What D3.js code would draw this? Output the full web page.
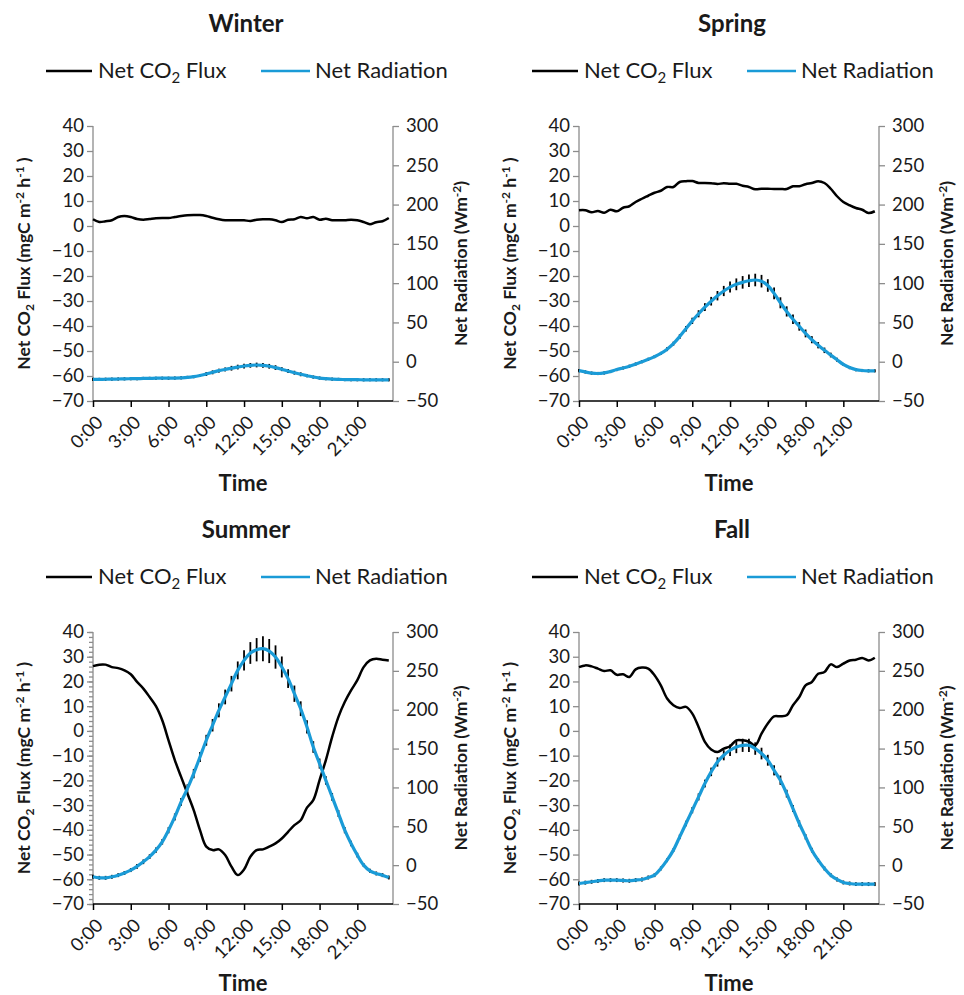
<!DOCTYPE html>
<html>
<head>
<meta charset="utf-8">
<script src="https://cdn.jsdelivr.net/npm/d3@7"></script>
<style>
  body { margin: 0; background: #fff; }
  text { font-family: Lato, "Open Sans", sans-serif; fill: #1a1a1a; }
  .title, .axtitle, .time { font-weight: bold; }
</style>
</head>
<body>
<div id="chart"></div>
<script>
// half-hourly values, 0:00 ... 23:30
var hours = d3.range(48).map(function (i) { return i / 2; });
var tickHours = [0, 3, 6, 9, 12, 15, 18, 21];
var tickLabels = ["0:00", "3:00", "6:00", "9:00", "12:00", "15:00", "18:00", "21:00"];
var fluxTicks = [40, 30, 20, 10, 0, -10, -20, -30, -40, -50, -60, -70];
var radTicks = [300, 250, 200, 150, 100, 50, 0, -50];

var winterFlux = [2.7, 1.6, 1.9, 2.3, 3.6, 4.0, 3.6, 2.8, 2.5, 2.8, 3.1, 3.2, 3.2, 3.6, 4.0, 4.3,
  4.4, 4.4, 4.0, 3.3, 2.7, 2.3, 2.3, 2.3, 2.3, 2.0, 2.5, 2.7, 2.7, 2.3, 1.6, 2.5,
  2.7, 3.6, 3.1, 3.6, 2.5, 2.9, 2.3, 2.3, 2.3, 2.5, 2.3, 1.6, 0.7, 1.5, 1.9, 3.2];
var winterRad = [-22.5, -22.5, -22.3, -22.2, -22, -21.8, -21.6, -21.5, -21.3, -21.2, -21, -21, -21, -20.8, -20.5, -20,
  -19, -17.5, -15.7, -13.5, -11.4, -9.8, -8.3, -6.8, -5.5, -4.6, -4.2, -4.6, -5.8, -7.5, -9.5, -11.8,
  -14, -16, -17.8, -19.5, -20.8, -21.6, -22.2, -22.5, -22.7, -22.8, -22.9, -23, -23, -23, -23, -23];
var winterErr = [2, 2, 2, 2, 2, 2, 2, 2, 2, 2, 2, 2, 2, 2, 2, 2,
  2, 2, 2.5, 2.5, 2.5, 2.5, 3, 3, 3, 3, 3, 3, 3, 3, 2.5, 2.5,
  2.5, 2.5, 2, 2, 2, 2, 2, 2, 2, 2, 2, 2, 2, 2, 2, 2];

var springFlux = [6.3, 6.3, 5.5, 6.0, 5.3, 6.5, 5.9, 7.3, 7.9, 9.6, 10.9, 12.1, 13.3, 14.1, 15.6, 15.6,
  17.6, 17.9, 18.0, 17.2, 17.2, 17.1, 16.8, 17.1, 16.9, 16.9, 16.1, 15.6, 14.7, 14.9, 14.9, 14.8,
  14.8, 14.8, 15.9, 15.9, 16.7, 17.2, 17.9, 17.2, 14.9, 11.9, 9.6, 8.3, 7.2, 6.5, 5.2, 5.9];
var springRad = [-11.4, -13, -14.5, -15, -14.3, -12.5, -10, -8, -5.8, -3, 0, 3, 6.5, 10.5, 16, 23,
  32, 42, 52, 61, 69.5, 77, 84, 90, 95, 98.5, 101, 103, 104, 102.5, 97, 87,
  75, 64, 54, 45, 36, 28, 21, 14.5, 8.5, 2.5, -3.5, -7.5, -10, -11.2, -11.6, -11.6];
var springErr = [2, 2, 2, 2, 2, 2, 2, 2, 2, 2, 2, 2, 2, 2, 2.5, 2.5,
  3, 3.5, 4, 4.5, 5, 5.5, 6, 6.5, 7, 7.5, 8, 8, 8, 8, 8, 7.5,
  7, 6.5, 6, 5.5, 5, 4.5, 4, 3.5, 3, 2.5, 2, 2, 2, 2, 2, 2];

var summerFlux = [26.2, 26.8, 26.8, 25.8, 25.4, 24.5, 22.9, 19.8, 17.1, 13.7, 10, 4.3, -3.8, -11.8, -18.6, -25.3,
  -32, -40.1, -46.8, -48.2, -47.9, -50.2, -54.9, -58.3, -56, -50.9, -48.2, -47.9, -46.8, -45.5, -43.5, -40.8,
  -38.1, -36.1, -31, -28, -19.9, -11.8, -2.4, 5.7, 11.7, 16.4, 20.5, 25.8, 28.5, 29.2, 28.8, 28.5];
var summerRad = [-15, -16.3, -16.3, -15, -12.9, -10, -6.4, -1.5, 4.3, 11, 19.3, 30, 45, 62, 81.4, 98.5,
  117.8, 139.2, 160.7, 180, 199.2, 216.4, 233.5, 250.6, 263.5, 273, 277.2, 278.5, 275.5, 267.8, 255, 240,
  220.6, 201.3, 177.8, 152, 130.7, 109, 87.8, 66.4, 45, 27.8, 12.9, 0, -7.3, -10.7, -12.9, -15.9];
var summerErr = [2.5, 2.5, 2.5, 2.5, 2.5, 2.5, 2.5, 3, 3, 3, 3.5, 3.5, 4, 4.5, 5, 5.5,
  6, 6.5, 7, 8, 9, 9.5, 10, 11.5, 13, 14, 15, 16, 15.5, 15, 13.5, 12,
  10.5, 9.5, 8.5, 7.5, 6.5, 5.5, 5, 4.5, 4, 3.5, 3, 2.5, 2.5, 2.5, 2.5, 2.5];

var fallFlux = [25.8, 26.5, 26.1, 25.2, 24.2, 24.5, 22.7, 22.9, 21.8, 24.9, 25.6, 25.2, 22.5, 18.4, 13.1, 10.4,
  9.3, 9.7, 7.0, 1.6, -4.4, -7.5, -8.5, -7.2, -6.2, -3.8, -3.8, -4.4, -5.8, -1.1, 3.0, 5.9,
  5.9, 6.3, 10.4, 13.7, 18.4, 19.8, 23.1, 23.8, 26.9, 25.8, 27.2, 28.5, 28.8, 29.5, 28.5, 29.6];
var fallRad = [-23.6, -22.5, -21.4, -20.3, -19.3, -19.3, -19.3, -19.7, -20.1, -19.3, -18.4, -15.9, -12.9, -4.3, 6.4, 19.3,
  36.4, 53.6, 70.7, 87.8, 105, 120, 132.8, 141.4, 147.8, 152.1, 154.2, 154.2, 150, 143.6, 135, 122,
  109.3, 92, 72.8, 53.6, 36.4, 19.3, 6.4, -4.3, -12.9, -18.4, -22.3, -23.6, -24.4, -24.4, -24.4, -24.4];
var fallErr = [2.5, 2.5, 2.5, 2.5, 2.5, 2.5, 2.5, 2.5, 2.5, 2.5, 2.5, 2.5, 2.5, 2.5, 2.5, 2.5,
  3, 3.5, 4, 4.5, 5, 5.5, 6, 6.5, 7.5, 8, 8.5, 8.5, 8, 7.5, 7, 6.5,
  6, 5, 4.5, 4, 3.5, 3, 2.5, 2.5, 2.5, 2.5, 2.5, 2.5, 2.5, 2.5, 2.5, 2.5];

var panels = [
  { name: "Winter", left: 93, top: 126, h: 275, flux: winterFlux, rad: winterRad, err: winterErr, minor: false, timeY: 90 },
  { name: "Spring", left: 579, top: 126, h: 275, flux: springFlux, rad: springRad, err: springErr, minor: false, timeY: 90 },
  { name: "Summer", left: 93, top: 632, h: 272, flux: summerFlux, rad: summerRad, err: summerErr, minor: true, timeY: 87 },
  { name: "Fall", left: 579, top: 632, h: 272, flux: fallFlux, rad: fallRad, err: fallErr, minor: false, timeY: 87 }
];

var plotW = 300;
var blue = "#1a9bd7";

var svg = d3.select("#chart").append("svg").attr("width", 964).attr("height", 995);

panels.forEach(function (p) {
  var g = svg.append("g").attr("transform", "translate(" + p.left + "," + p.top + ")");
  var x = d3.scaleLinear().domain([0, 23 + 50 / 60]).range([0, plotW]);
  var yL = d3.scaleLinear().domain([-70, 40]).range([p.h, 0]);
  var yR = d3.scaleLinear().domain([-50, 300]).range([p.h, 0]);

  // title + legend
  g.append("text").attr("class", "title").attr("x", plotW / 2 + 3).attr("y", -94)
    .attr("text-anchor", "middle").style("font-size", "24px").text(p.name);

  var lg = g.append("g").attr("transform", "translate(0," + -48 + ")");
  lg.append("line").attr("x1", -47).attr("x2", -1).attr("y1", -7).attr("y2", -7)
    .attr("stroke", "#000").attr("stroke-width", 2.5);
  var t1 = lg.append("text").attr("x", 5).attr("y", 0).style("font-size", "22px");
  t1.append("tspan").text("Net CO");
  t1.append("tspan").attr("dy", 5).style("font-size", "15px").text("2");
  t1.append("tspan").attr("dy", -5).text(" Flux");
  lg.append("line").attr("x1", 168).attr("x2", 217).attr("y1", -7).attr("y2", -7)
    .attr("stroke", blue).attr("stroke-width", 2.5);
  lg.append("text").attr("x", 222).attr("y", 0).style("font-size", "22px").text("Net Radiation");

  // left axis
  var gl = g.append("g").call(d3.axisLeft(yL).tickValues(fluxTicks).tickSize(6).tickPadding(3));
  if (p.minor) {
    gl.insert("g", ":first-child").call(d3.axisLeft(yL).tickValues(d3.range(-70, 41, 2)).tickSize(4).tickFormat(""))
      .selectAll(".domain").remove();
  }
  // right axis
  var gr = g.append("g").attr("transform", "translate(" + plotW + ",0)")
    .call(d3.axisRight(yR).tickValues(radTicks).tickSize(6).tickPadding(7));
  [gl, gr].forEach(function (a) {
    a.selectAll("path, line").attr("stroke", "#8c8c8c").attr("stroke-width", 1.3);
    a.selectAll("text").style("font-size", "18.5px").style("font-family", "Lato, sans-serif").attr("fill", "#1a1a1a");
  });
  gl.selectAll(".domain").attr("d", "M0,0V" + p.h);
  gr.selectAll(".domain").attr("d", "M0,0V" + p.h);

  // bottom axis
  var gb = g.append("g").attr("transform", "translate(0," + p.h + ")")
    .call(d3.axisBottom(x).tickValues(tickHours).tickFormat(function (d, i) { return tickLabels[i]; }).tickSize(6).tickSizeOuter(0));
  gb.selectAll("path, line").attr("stroke", "#000").attr("stroke-width", 1.5);
  gb.selectAll(".domain").attr("d", "M0,0H" + plotW);
  gb.selectAll("text").style("font-size", "18.5px").style("font-family", "Lato, sans-serif").attr("fill", "#1a1a1a")
    .attr("text-anchor", "end").attr("dy", "0.35em").attr("y", 0)
    .attr("transform", "translate(6,18) rotate(-45)");

  // axis titles
  var lt = g.append("text").attr("class", "axtitle").attr("text-anchor", "middle")
    .attr("transform", "translate(" + (-63) + "," + p.h / 2 + ") rotate(-90)").style("font-size", "17.5px");
  lt.append("tspan").text("Net CO");
  lt.append("tspan").attr("dy", 4).style("font-size", "12px").text("2");
  lt.append("tspan").attr("dy", -4).text(" Flux (mgC m");
  lt.append("tspan").attr("dy", -6).style("font-size", "12px").text("-2");
  lt.append("tspan").attr("dy", 6).text(" h");
  lt.append("tspan").attr("dy", -6).style("font-size", "12px").text("-1");
  lt.append("tspan").attr("dy", 6).text(" )");

  var rt = g.append("text").attr("class", "axtitle").attr("text-anchor", "middle")
    .attr("transform", "translate(" + (plotW + 74) + "," + p.h / 2 + ") rotate(-90)").style("font-size", "17.5px");
  rt.append("tspan").text("Net Radiation (Wm");
  rt.append("tspan").attr("dy", -6).style("font-size", "12px").text("-2");
  rt.append("tspan").attr("dy", 6).text(")");

  g.append("text").attr("class", "time").attr("x", plotW / 2).attr("y", p.h + p.timeY)
    .attr("text-anchor", "middle").style("font-size", "22px").text("Time");

  // series
  var fluxLine = d3.line().x(function (d, i) { return x(hours[i]); }).y(function (d) { return yL(d); })
    .curve(d3.curveCatmullRom.alpha(0.5));
  var radLine = d3.line().x(function (d, i) { return x(hours[i]); }).y(function (d) { return yR(d); })
    .curve(d3.curveCatmullRom.alpha(0.5));

  g.append("path").datum(p.flux).attr("d", fluxLine).attr("fill", "none")
    .attr("stroke", "#000").attr("stroke-width", 2.5);

  g.append("g").selectAll("line").data(p.rad).enter().append("line")
    .attr("x1", function (d, i) { return x(hours[i]); })
    .attr("x2", function (d, i) { return x(hours[i]); })
    .attr("y1", function (d, i) { return yR(d + p.err[i]); })
    .attr("y2", function (d, i) { return yR(d - p.err[i]); })
    .attr("stroke", "#000").attr("stroke-width", 1.8);

  g.append("path").datum(p.rad).attr("d", radLine).attr("fill", "none")
    .attr("stroke", blue).attr("stroke-width", 3.2);
});
</script>
</body>
</html>
